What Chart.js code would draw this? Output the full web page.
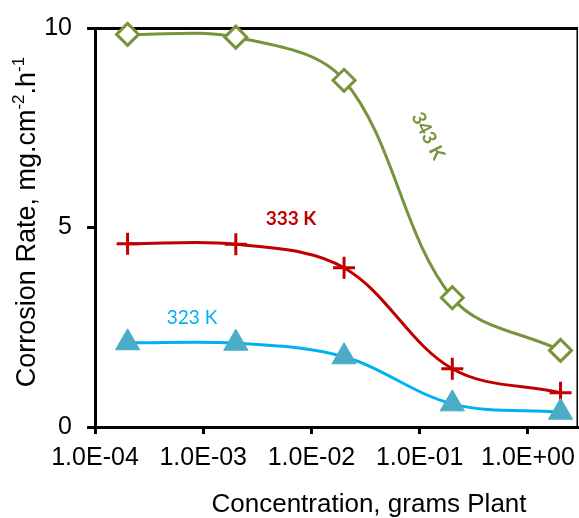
<!DOCTYPE html>
<html><head><meta charset="utf-8">
<script src="https://cdn.jsdelivr.net/npm/chart.js@4"></script>
<style>html,body{margin:0;padding:0;background:#fff}canvas{display:block}</style>
</head><body>
<canvas id="c" width="579" height="518"></canvas>
<script>
// ---- data ----
const concentrations = [2e-4, 2e-3, 2e-2, 2e-1, 2];
const rate323 = [2.11, 2.10, 1.76, 0.58, 0.37];
const rate333 = [4.59, 4.58, 3.99, 1.46, 0.86];
const rate343 = [9.84, 9.77, 8.69, 3.24, 1.92];
const seriesNames = ['323 K', '333 K', '343 K'];
const xTickValues = [1e-4, 1e-3, 1e-2, 1e-1, 1];
const xTickLabels = ['1.0E-04', '1.0E-03', '1.0E-02', '1.0E-01', '1.0E+00'];
const yTickValues = [0, 5, 10];
const xTitle = 'Concentration, grams Plant';

const FONT = "'Liberation Sans', Arial, sans-serif";
const toPts = (ys) => ys.map((y, i) => ({x: concentrations[i], y}));

const decor = {
  id: 'decor',
  afterDraw(chart) {
    const {ctx, chartArea: a} = chart;
    ctx.save();
    // right border
    ctx.strokeStyle = '#000'; ctx.lineWidth = 1.5;
    ctx.beginPath(); ctx.moveTo(a.right - 0.75, a.top); ctx.lineTo(a.right - 0.75, a.bottom); ctx.stroke();

    // x title
    ctx.fillStyle = '#000';
    ctx.font = '26px ' + FONT;
    ctx.textAlign = 'center'; ctx.textBaseline = 'alphabetic';
    ctx.fillText(xTitle, 369, 512);

    // y title with superscripts
    const parts = [['Corrosion Rate, mg.cm', false], ['-2', true], ['.h', false], ['-1', true]];
    const big = '27px ' + FONT, small = '17px ' + FONT;
    let total = 0;
    parts.forEach(p => { ctx.font = p[1] ? small : big; total += ctx.measureText(p[0]).width; });
    ctx.translate(35, 222);
    ctx.rotate(-Math.PI / 2);
    ctx.textAlign = 'left';
    let x = -total / 2;
    parts.forEach(p => {
      ctx.font = p[1] ? small : big;
      ctx.fillText(p[0], x, p[1] ? -11 : 0);
      x += ctx.measureText(p[0]).width;
    });
    ctx.restore();

    // series annotations
    ctx.save();
    ctx.textAlign = 'center'; ctx.textBaseline = 'middle';
    ctx.font = 'bold 19px Lato, ' + FONT;
    ctx.fillStyle = '#77933C';
    ctx.translate(428, 136); ctx.rotate(63 * Math.PI / 180);
    ctx.fillText(seriesNames[2], 0, 0);
    ctx.restore();
    ctx.save();
    ctx.textAlign = 'center'; ctx.textBaseline = 'middle';
    ctx.font = 'bold 19px Lato, ' + FONT;
    ctx.fillStyle = '#C00000';
    ctx.fillText(seriesNames[1], 291, 219);
    ctx.font = '19px Lato, ' + FONT;
    ctx.fillStyle = '#00B0F0';
    ctx.fillText(seriesNames[0], 192, 318);
    ctx.restore();
  }
};

new Chart(document.getElementById('c'), {
  type: 'line',
  data: {
    datasets: [
      { label: seriesNames[0], data: toPts(rate323), borderColor: '#00B0F0', borderWidth: 3,
        pointStyle: 'triangle', pointRadius: 14, pointBackgroundColor: '#4BACC6', pointBorderColor: '#4BACC6', pointBorderWidth: 1,
        tension: 0.35, fill: false, clip: false },
      { label: seriesNames[1], data: toPts(rate333), borderColor: '#C00000', borderWidth: 3,
        pointStyle: 'cross', pointRadius: 11, pointBorderColor: '#C00000', pointBorderWidth: 3,
        tension: 0.35, fill: false, clip: false },
      { label: seriesNames[2], data: toPts(rate343), borderColor: '#77933C', borderWidth: 3,
        pointStyle: 'rectRot', pointRadius: 11, pointBackgroundColor: '#fff', pointBorderColor: '#77933C', pointBorderWidth: 3,
        tension: 0.35, fill: false, clip: false }
    ]
  },
  options: {
    responsive: false, animation: false, devicePixelRatio: 1,
    layout: { autoPadding: false, padding: { top: 28, right: 1, left: 0, bottom: 0 } },
    plugins: { legend: { display: false }, tooltip: { enabled: false } },
    scales: {
      x: {
        type: 'logarithmic', min: 1e-4, max: 2.9,
        afterBuildTicks: s => { s.ticks = xTickValues.map(v => ({ value: v })); },
        afterFit: s => { s.height = 91; s.paddingLeft = 0; s.paddingRight = 0; },
        ticks: { callback: (v, i) => xTickLabels[i], font: { size: 25, family: FONT }, color: '#000',
                 maxRotation: 0, autoSkip: false, padding: 9 },
        grid: { drawOnChartArea: false, drawTicks: true, tickLength: 7, tickWidth: 3, tickColor: '#000' },
        border: { color: '#000', width: 3 }
      },
      y: {
        min: 0, max: 10,
        afterBuildTicks: s => { s.ticks = yTickValues.map(v => ({ value: v })); },
        afterFit: s => { s.width = 95; s.paddingTop = 0; s.paddingBottom = 0; },
        ticks: { font: { size: 25, family: FONT }, color: '#000', padding: 15 },
        grid: { color: c => (c.tick && c.tick.value === 10) ? '#000' : 'rgba(0,0,0,0)', lineWidth: 3,
                drawTicks: true, tickLength: 8, tickWidth: 3, tickColor: '#000' },
        border: { color: '#000', width: 3 }
      }
    }
  },
  plugins: [decor]
});
</script>
</body></html>
